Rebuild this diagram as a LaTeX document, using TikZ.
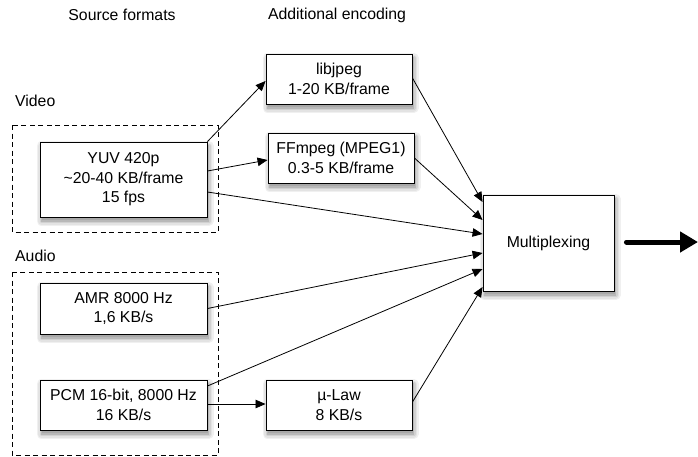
\documentclass[tikz,border=0pt]{standalone}
\usepackage{fontspec}
\setmainfont{Liberation Sans}
\usetikzlibrary{arrows.meta}
\tikzset{
  box/.style={draw=black, line width=0.9pt, fill=white, align=center, inner sep=0pt},
  group/.style={draw=black, line width=0.9pt, dash pattern=on 5pt off 3.5pt},
  conn/.style={draw=black, line width=0.8pt, -{Triangle[length=10pt,width=8.5pt]}},
  bigconn/.style={draw=black, line width=5pt, line cap=round, -{Triangle[length=18pt,width=20pt]}},
  lbl/.style={inner sep=0pt},
  sh1/.style={draw=black!6, line width=10pt, line join=round},
  sh2/.style={draw=black!11, line width=7pt, line join=round},
  sh3/.style={draw=black!18, line width=4pt, line join=round},
  sh4/.style={draw=black!28, line width=1.5pt, fill=black!34}
}
\newcommand{\shadowrect}[4]{%
  \draw[sh1] (#1+1.5,#2+4) rectangle (#3+1.5,#4+4);
  \draw[sh2] (#1+1.5,#2+4) rectangle (#3+1.5,#4+4);
  \draw[sh3] (#1+1.5,#2+4) rectangle (#3+1.5,#4+4);
  \draw[sh4] (#1+1.5,#2+4) rectangle (#3+1.5,#4+4);
}
\begin{document}
\begin{tikzpicture}[x=1pt,y=-1pt,font=\fontsize{15.8}{19.5}\selectfont]
\useasboundingbox (0,0) rectangle (698,456);
% dashed groups
\draw[group] (12,125) rectangle (218,232);
\draw[group] (12,272) rectangle (218,455);
% shadows
\shadowrect{40}{142}{207}{217}
\shadowrect{266}{54}{412}{104}
\shadowrect{268}{133}{414}{183}
\shadowrect{40}{283}{207}{334}
\shadowrect{40}{380}{207}{430}
\shadowrect{266}{380}{412}{430}
\shadowrect{483}{195}{614}{291}
% titles
\node[lbl] (t1) at (122,15) {Source formats};
\node[lbl] (t2) at (337,15) {Additional encoding};
\node[lbl, anchor=west] (tv) at (15,101) {Video};
\node[lbl, anchor=west] (ta) at (15,256) {Audio};
% boxes
\node[box, minimum width=167pt, minimum height=75pt] (yuv) at (123.5,179.5) {YUV 420p\\\textasciitilde20-40 KB/frame\\15 fps};
\node[box, minimum width=146pt, minimum height=50pt] (lib) at (339,79) {libjpeg\\1-20 KB/frame};
\node[box, minimum width=146pt, minimum height=50pt] (ff) at (341,158) {FFmpeg (MPEG1)\\0.3-5 KB/frame};
\node[box, minimum width=167pt, minimum height=51pt] (amr) at (123.5,308.5) {AMR 8000 Hz\\1,6 KB/s};
\node[box, minimum width=167pt, minimum height=50pt] (pcm) at (123.5,405) {PCM 16-bit, 8000 Hz\\16 KB/s};
\node[box, minimum width=146pt, minimum height=50pt] (mu) at (339,405) {µ-Law\\8 KB/s};
\node[box, minimum width=131pt, minimum height=96pt] (mux) at (548.5,243) {Multiplexing};
\coordinate (out) at (698,242);
% connectors
\draw[conn] (yuv.north east) -- ([yshift=-2pt]lib.west);
\draw[conn] ([yshift=8.5pt]yuv.east) -- ([yshift=-2pt]ff.west);
\draw[conn] ([yshift=-12.5pt]yuv.east) -- ([yshift=9pt]mux.west);
\draw[conn] ([yshift=1pt]lib.east) -- ([yshift=41pt]mux.west);
\draw[conn] (ff.east) -- ([yshift=23pt]mux.west);
\draw[conn] (amr.east) -- ([yshift=-10pt]mux.west);
\draw[conn] ([yshift=19pt]pcm.east) -- ([yshift=-26pt]mux.west);
\draw[conn] ([yshift=1pt]pcm.east) -- ([yshift=1pt]mu.west);
\draw[conn] ([yshift=3pt]mu.east) -- ([yshift=-44pt]mux.west);
\draw[bigconn] ([xshift=12pt,yshift=1pt]mux.east) -- (out);
\end{tikzpicture}
\end{document}
